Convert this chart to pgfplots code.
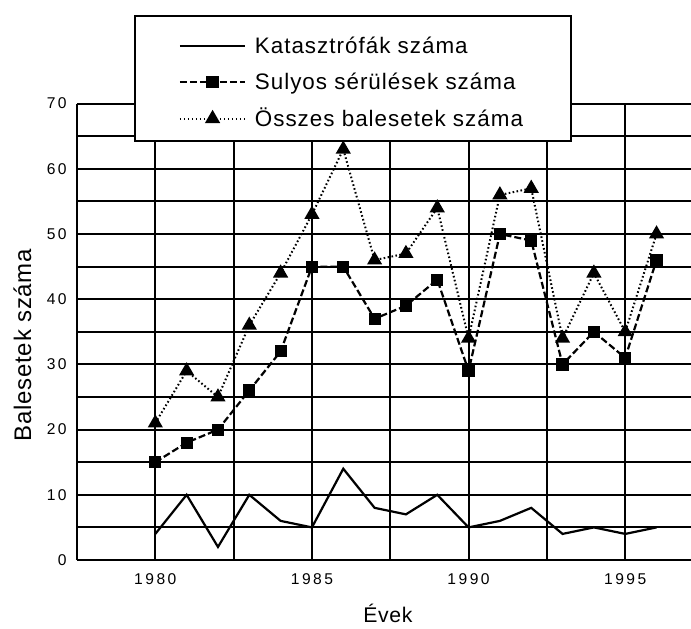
\documentclass[border=0pt]{standalone}
\usepackage{pgfplots}
\usepackage{pgfplotstable}
\pgfplotsset{compat=1.18}
\usepackage{fontspec}
\setmainfont{Liberation Sans}
\newfontfamily\tickfont[LetterSpace=16]{Liberation Sans}
\newfontfamily\legfont[LetterSpace=4.5]{Liberation Sans}
\newfontfamily\labfont[LetterSpace=3]{Liberation Sans}

\pgfplotstableread{
year kat sul ossz
1980 4 15 21
1981 10 18 29
1982 2 20 25
1983 10 26 36
1984 6 32 44
1985 5 45 53
1986 14 45 63
1987 8 37 46
1988 7 39 47
1989 10 43 54
1990 5 29 34
1991 6 50 56
1992 8 49 57
1993 4 30 34
1994 5 35 44
1995 4 31 35
1996 5 46 50
}\data

\begin{document}
\begin{tikzpicture}
\begin{axis}[
  at={(38.5pt,34pt)}, anchor=south west,
  scale only axis, width=307pt, height=228.2pt,
  xmin=1977.5, xmax=1997.1, ymin=0, ymax=70,
  enlargelimits=false,
  axis lines=left,
  axis line style={-, line width=1pt},
  xtick={1980,1985,1990,1995},
  minor xtick={1982.5,1987.5,1992.5},
  ytick={0,10,...,70},
  minor ytick={5,15,...,65},
  grid=both,
  major grid style={black, line width=1pt},
  minor grid style={black, line width=1pt},
  major tick length=0pt, minor tick length=0pt,
  /pgf/number format/assume math mode=true,
  /pgf/number format/1000 sep={},
  xticklabel style={font=\tickfont\fontsize{7.8pt}{9pt}\selectfont, anchor=base, yshift=-12pt},
  yticklabel style={font=\tickfont\fontsize{7.8pt}{9pt}\selectfont, anchor=east, inner xsep=0pt, xshift=-5pt},
  xlabel={Évek},
  ylabel={Balesetek száma},
  every axis x label/.style={at={(axis description cs:0.5065,-0.138)}, anchor=base, font=\labfont\fontsize{10.6pt}{12pt}\selectfont},
  every axis y label/.style={at={(axis description cs:-0.0888,0.471)}, anchor=center, rotate=90, font=\labfont\fontsize{12pt}{14pt}\selectfont},
  legend style={at={(axis description cs:0.0928,1.195)}, anchor=north west,
    draw=black, line width=1pt, fill=white,
    inner xsep=21.85pt, inner ysep=4.05pt, row sep=0pt, column sep=4.2pt,
    cells={anchor=base west},
    nodes={inner xsep=0pt, inner ysep=1pt, text height=13.8pt, text depth=2.45pt},
    font=\legfont\fontsize{11.2pt}{13pt}\selectfont},
  legend image code/.code={\draw[mark repeat=2,mark phase=2,#1] plot coordinates {(0pt,3.85pt) (16.4pt,3.85pt) (32.8pt,3.85pt)};},
]
\addplot[black, line width=1.1pt, solid, mark=none] table[x=year,y=kat]{\data};
\addlegendentry{\makebox[136.3pt][l]{Katasztrófák száma}}
\addplot[black, line width=1.1pt, dash pattern=on 3.5pt off 1.5pt, mark=square*, mark size=2.5pt, mark options={solid}] table[x=year,y=sul]{\data};
\addlegendentry{\makebox[136.3pt][l]{Sulyos sérülések száma}}
\addplot[black, line width=1pt, dash pattern=on 0.8pt off 1.2pt, mark=triangle*, mark size=3.4pt, mark options={solid}] table[x=year,y=ossz]{\data};
\addlegendentry{\makebox[136.3pt][l]{Összes balesetek száma}}
\end{axis}
\pgfresetboundingbox
\useasboundingbox (0,0) rectangle (345.5pt,314pt);
\end{tikzpicture}
\end{document}
